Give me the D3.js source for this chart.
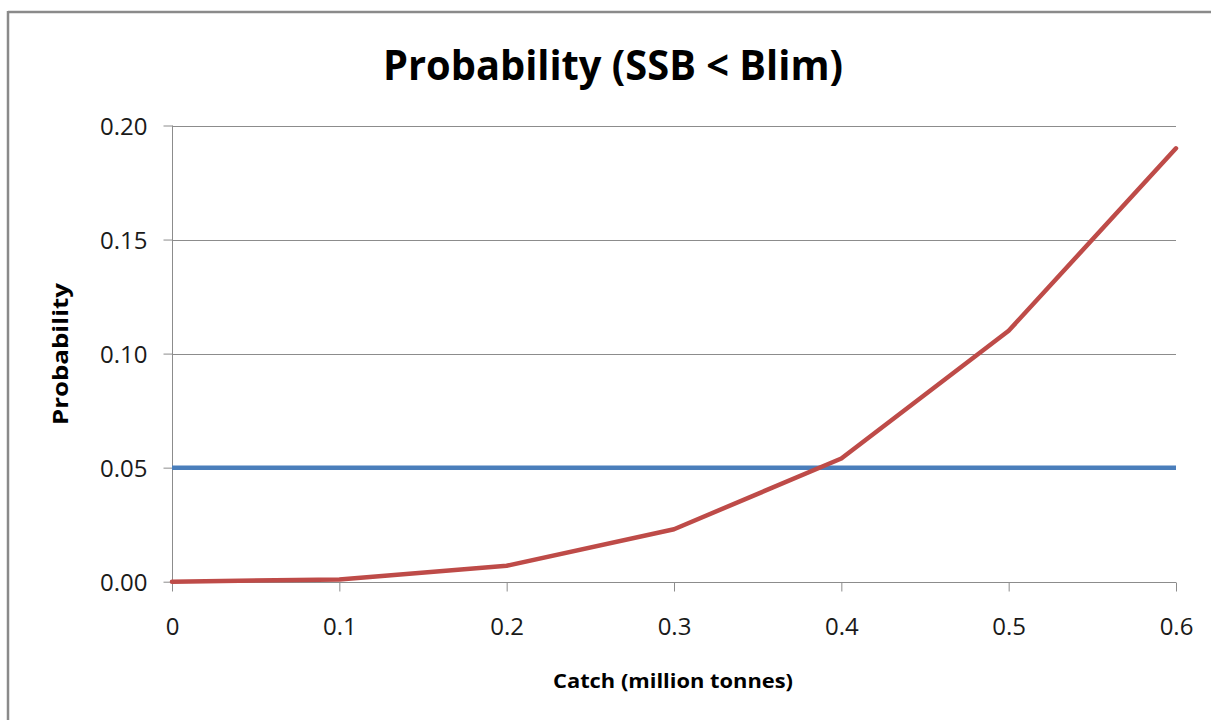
<!DOCTYPE html>
<html>
<head>
<meta charset="utf-8">
<script src="https://cdn.jsdelivr.net/npm/d3@7"></script>
<style>
  html, body { margin: 0; padding: 0; background: #fff; }
  svg { display: block; }
</style>
</head>
<body>
<svg id="chart" width="1211" height="720"></svg>
<script>
// ---- data ----
const catchValues = [0, 0.1, 0.2, 0.3, 0.4, 0.5, 0.6];
const probValues  = [0, 0.001, 0.007, 0.023, 0.054, 0.11, 0.19];
const limitCatch  = [0, 0.6];
const limitValues = [0.05, 0.05];
const xTicks = [0, 0.1, 0.2, 0.3, 0.4, 0.5, 0.6];
const yTicks = [0, 0.05, 0.10, 0.15, 0.20];
const titleText = "Probability (SSB < Blim)";
const xTitle = "Catch (million tonnes)";
const yTitle = "Probability";

const svg = d3.select("#chart");
const W = 1211, H = 720;
const pLeft = 172, pRight = 1176, pTop = 125.5, pBottom = 581.7;

// frame
svg.append("line").attr("x1", 8).attr("x2", W).attr("y1", 12).attr("y2", 12)
  .attr("stroke", "#8a8a8a").attr("stroke-width", 2.5);
svg.append("line").attr("x1", 8).attr("x2", 8).attr("y1", 11).attr("y2", H)
  .attr("stroke", "#8a8a8a").attr("stroke-width", 2.5);

const x = d3.scaleLinear().domain([0, 0.6]).range([pLeft, pRight]);
const y = d3.scaleLinear().domain([0, 0.2]).range([pBottom, pTop]);

const font = "'Open Sans', 'Liberation Sans', sans-serif";

// gridlines
svg.append("g").selectAll("line").data(yTicks.filter(d => d > 0)).join("line")
  .attr("x1", pLeft).attr("x2", pRight)
  .attr("y1", d => Math.round(y(d)) + 0.5).attr("y2", d => Math.round(y(d)) + 0.5)
  .attr("stroke", "#8c8c8c").attr("stroke-width", 1);

// y axis
const yAxis = svg.append("g").attr("transform", `translate(${pLeft + 0.5},0)`)
  .call(d3.axisLeft(y).tickValues(yTicks).tickFormat(d3.format(".2f")).tickSize(9).tickPadding(16));
yAxis.select(".domain").attr("stroke", "#8c8c8c").attr("d", `M0,${pTop}V${pBottom + 9}`);
yAxis.selectAll(".tick line").attr("stroke", "#8c8c8c");
yAxis.selectAll(".tick text").attr("font-family", font).attr("font-size", 24)
  .attr("fill", "#1a1a1a").attr("dy", "0.36em");

// x axis
const xAxis = svg.append("g").attr("transform", `translate(0,${Math.round(pBottom) + 0.5})`)
  .call(d3.axisBottom(x).tickValues(xTicks).tickFormat(d => d === 0 ? "0" : d3.format(".1f")(d)).tickSize(9).tickPadding(0));
xAxis.select(".domain").attr("stroke", "#8c8c8c").attr("d", `M${pLeft},0H${pRight}`);
xAxis.selectAll(".tick line").attr("stroke", "#8c8c8c");
xAxis.selectAll(".tick text").attr("font-family", font).attr("font-size", 24)
  .attr("fill", "#1a1a1a").attr("dy", null).attr("y", 52);

// lines
const line = d3.line().x(d => x(d[0])).y(d => y(d[1]));
svg.append("path").datum(limitCatch.map((c, i) => [c, limitValues[i]]))
  .attr("d", line).attr("fill", "none").attr("stroke", "#4a7ebb").attr("stroke-width", 4.5);
svg.append("path").datum(catchValues.map((c, i) => [c, probValues[i]]))
  .attr("d", line).attr("fill", "none").attr("stroke", "#be4b48").attr("stroke-width", 4.5)
  .attr("stroke-linejoin", "round").attr("stroke-linecap", "round");

// titles
svg.append("text").attr("x", 613).attr("y", 80).attr("text-anchor", "middle")
  .attr("font-family", font).attr("font-weight", "bold").attr("font-size", 41)
  .attr("textLength", 460).attr("lengthAdjust", "spacingAndGlyphs")
  .attr("fill", "#000").text(titleText);
svg.append("text").attr("x", 673).attr("y", 688).attr("text-anchor", "middle")
  .attr("font-family", font).attr("font-weight", "bold").attr("font-size", 20)
  .attr("textLength", 240).attr("lengthAdjust", "spacingAndGlyphs")
  .attr("fill", "#000").text(xTitle);
svg.append("text").attr("transform", "translate(68,354) rotate(-90)").attr("text-anchor", "middle")
  .attr("font-family", font).attr("font-weight", "bold").attr("font-size", 21)
  .attr("textLength", 142).attr("lengthAdjust", "spacingAndGlyphs")
  .attr("fill", "#000").text(yTitle);
</script>
</body>
</html>
